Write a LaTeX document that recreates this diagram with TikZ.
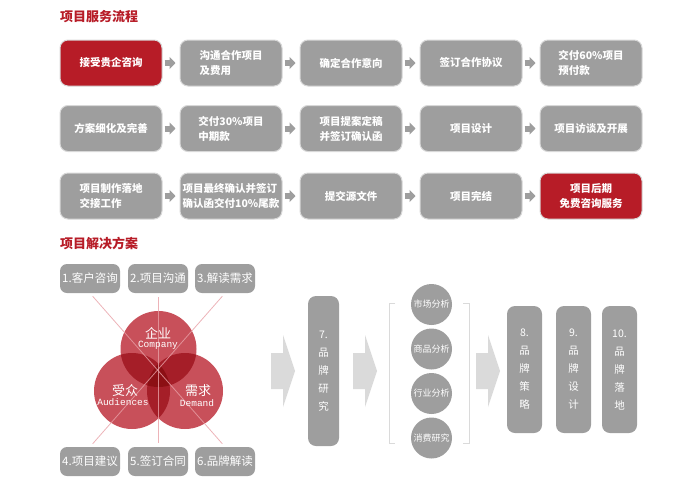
\documentclass[tikz,border=0pt]{standalone}
\usepackage{fontspec}
\setmainfont{Noto Sans CJK SC}
\newfontfamily\monof{Liberation Mono}
\usetikzlibrary{arrows.meta}
\definecolor{bred}{HTML}{B71C27}
\definecolor{bgray}{HTML}{9E9E9E}
\definecolor{lgray}{HTML}{DADADA}
\definecolor{vone}{HTML}{C8505A}
\definecolor{vtwo}{HTML}{A51E28}
\definecolor{vthree}{HTML}{8C0F14}
\definecolor{vline}{HTML}{E8A0A6}
\definecolor{glow}{HTML}{D8D8D8}
\tikzset{
  flowbox/.style={rounded corners=8pt, fill=bgray, draw=glow, line width=1pt,
    minimum width=102pt, minimum height=46pt, text=white, inner sep=1pt,
    font=\bfseries\fontsize{10.5}{15}\selectfont, align=left},
  redbox/.style={flowbox, fill=bred, align=center},
  flowarrow/.style={draw=bgray, line width=6pt, -{Triangle[length=6pt,width=12pt]},
    shorten <=2pt, shorten >=4pt},
  titletext/.style={text=bred, font=\bfseries\fontsize{13}{15}\selectfont, inner sep=0pt, anchor=west},
  smallbox/.style={rounded corners=7pt, fill=bgray, minimum width=60pt, minimum height=29pt,
    text=white, inner sep=0pt, font=\fontsize{11.5}{13}\selectfont},
  vbox/.style={rounded corners=8pt, fill=bgray, text=white, inner sep=0pt,
    font=\fontsize{10.5}{18}\selectfont, align=center},
  scircle/.style={circle, fill=bgray, minimum size=41pt, inner sep=0pt, text=white,
    font=\fontsize{9}{10}\selectfont},
  bigarrow/.style={fill=lgray},
  vennline/.style={draw=vline, line width=0.8pt, opacity=0.8, shorten <=4pt, shorten >=4pt},
  venncn/.style={text=white, inner sep=0pt, font=\fontsize{13}{14}\selectfont},
  vennen/.style={text=white, inner sep=0pt, font=\monof\fontsize{9.5}{10}\selectfont},
}
\begin{document}
\begin{tikzpicture}[x=1pt,y=-1pt]
\useasboundingbox (0,0) rectangle (700,485);

% ---- section 1 ----
\node[titletext] (t1) at (60,16.5) {项目服务流程};

\node[redbox]  (a1) at (111,63) {接受贵企咨询};
\node[flowbox] (a2) at (231,63) {沟通合作项目\\及费用};
\node[flowbox] (a3) at (351,63) {确定合作意向};
\node[flowbox] (a4) at (471,63) {签订合作协议};
\node[flowbox] (a5) at (591,63) {交付60\%项目\\预付款};

\node[flowbox] (b1) at (111,128.5) {方案细化及完善};
\node[flowbox] (b2) at (231,128.5) {交付30\%项目\\中期款};
\node[flowbox] (b3) at (351,128.5) {项目提案定稿\\并签订确认函};
\node[flowbox] (b4) at (471,128.5) {项目设计};
\node[flowbox] (b5) at (591,128.5) {项目访谈及开展};

\node[flowbox] (c1) at (111,196) {项目制作落地\\交接工作};
\node[flowbox] (c2) at (231,196) {项目最终确认并签订\\确认函交付10\%尾款};
\node[flowbox] (c3) at (351,196) {提交源文件};
\node[flowbox] (c4) at (471,196) {项目完结};
\node[redbox]  (c5) at (591,196) {项目后期\\免费咨询服务};

\foreach \r in {a,b,c}{
  \draw[flowarrow] (\r1) -- (\r2);
  \draw[flowarrow] (\r2) -- (\r3);
  \draw[flowarrow] (\r3) -- (\r4);
  \draw[flowarrow] (\r4) -- (\r5);
}

% ---- section 2 ----
\node[titletext] (t2) at (60,243) {项目解决方案};

\node[smallbox] (s1) at (90,278.5) {1.客户咨询};
\node[smallbox] (s2) at (158,278.5) {2.项目沟通};
\node[smallbox] (s3) at (225,278.5) {3.解读需求};
\node[smallbox] (s4) at (90,461.5) {4.项目建议};
\node[smallbox] (s5) at (158,461.5) {5.签订合同};
\node[smallbox] (s6) at (225,461.5) {6.品牌解读};

% venn
\coordinate (vc) at (158.5,349);
\coordinate (va) at (132,391);
\coordinate (vd) at (185,391);
\def\vr{38}
\fill[vone] (vc) circle (\vr);
\fill[vone] (va) circle (\vr);
\fill[vone] (vd) circle (\vr);
\begin{scope}
  \clip (vc) circle (\vr);
  \fill[vtwo] (va) circle (\vr);
  \fill[vtwo] (vd) circle (\vr);
\end{scope}
\begin{scope}
  \clip (va) circle (\vr);
  \fill[vtwo] (vd) circle (\vr);
\end{scope}
\begin{scope}
  \clip (va) circle (\vr);
  \clip (vd) circle (\vr);
  \fill[vthree] (vc) circle (\vr);
\end{scope}

\draw[vennline] (s1.south) -- (s6.north);
\draw[vennline] (s3.south) -- (s4.north);
\draw[vennline] (s2.south) -- (s5.north);

\node[venncn] (vcn1) at (158,333) {企业};
\node[vennen] (ven1) at (158,345) {Company};
\node[venncn] (vcn2) at (125,391) {受众};
\node[vennen] (ven2) at (123,402.5) {Audiences};
\node[venncn] (vcn3) at (198,391) {需求};
\node[vennen] (ven3) at (197,403) {Demand};

% big arrows
\foreach \x in {271,353,476}{
  \fill[bigarrow] (\x,353) -- (\x+12,353) -- (\x+12,335) -- (\x+24,371)
     -- (\x+12,407) -- (\x+12,389) -- (\x,389) -- cycle;
}

\node[vbox, minimum width=31pt, minimum height=150pt] (v7) at (323.5,371) {7.\\品\\牌\\研\\究};

% bracket
\draw[lgray, line width=1pt] (395,303) -- (389,303) -- (389,443) -- (395,443);
\draw[lgray, line width=1pt] (463,303) -- (469,303) -- (469,443) -- (463,443);

\node[scircle] (m1) at (431.5,304.5) {市场分析};
\node[scircle] (m2) at (431.5,349) {商品分析};
\node[scircle] (m3) at (431.5,393.5) {行业分析};
\node[scircle] (m4) at (431.5,438) {消费研究};

\node[vbox, minimum width=35pt, minimum height=127pt] (v8) at (524.5,369.5) {8.\\品\\牌\\策\\略};
\node[vbox, minimum width=35pt, minimum height=127pt] (v9) at (573.5,369.5) {9.\\品\\牌\\设\\计};
\node[vbox, minimum width=35pt, minimum height=127pt] (v10) at (619.5,369.5) {10.\\品\\牌\\落\\地};
\end{tikzpicture}
\end{document}
